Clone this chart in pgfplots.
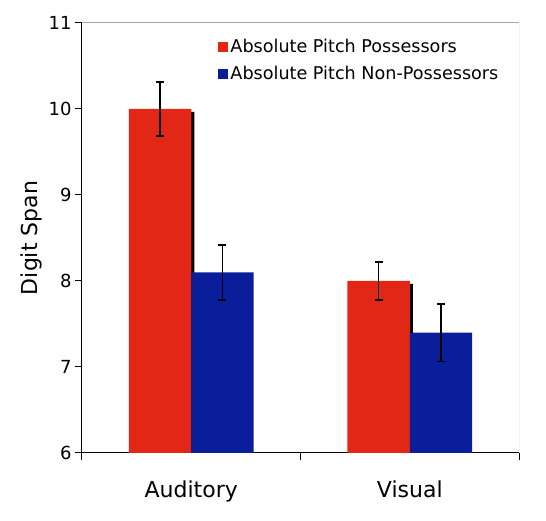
\documentclass[border=0pt]{standalone}
\usepackage{fontspec}
\setmainfont{DejaVu Sans}
\usepackage{pgfplots}
\pgfplotsset{compat=1.18}
\usetikzlibrary{calc}

\definecolor{apred}{RGB}{227,39,22}
\definecolor{apblue}{RGB}{10,30,156}

\begin{document}
\begin{tikzpicture}
\begin{axis}[
    scale only axis,
    width=437pt, height=430pt,
    xmin=-0.5, xmax=1.5,
    ymin=6, ymax=11,
    axis x line*=bottom,
    axis y line*=left,
    axis line style={line width=1pt, black},
    xtick={0,1},
    xticklabels={Auditory, Visual},
    minor xtick={-0.5,0.5,1.5},
    major x tick style={draw=none},
    minor x tick style={line width=1pt, black},
    minor tick length=7pt,
    ytick={6,7,8,9,10,11},
    y tick style={line width=1pt, black},
    major tick length=7pt,
    tick align=outside,
    /pgf/number format/assume math mode=true,
    yticklabel style={font=\fontsize{18}{20}\selectfont},
    xticklabel style={font=\fontsize{22}{26}\selectfont, yshift=-17pt},
    ylabel={Digit Span},
    ylabel style={font=\fontsize{22}{26}\selectfont},
    ybar, bar width=0.286,
    legend style={draw=none, fill=none, at={(0.305,0.972)}, anchor=north west,
        font=\fontsize{17.6}{20}\selectfont, row sep=8pt,
        cells={anchor=west}},
    legend image code/.code={\fill[#1,draw=none] (-3pt,-5pt) rectangle (7pt,5pt);},
    error bars/y dir=both,
    error bars/y explicit,
    error bars/error bar style={line width=1.7pt, black},
    error bars/error mark options={line width=1.7pt, black, mark size=4pt, rotate=90},
]
% shadow behind the red bars
\addplot[fill=black, draw=none, bar shift=-0.129, yshift=-3pt, forget plot,
    error bars/y dir=none]
    coordinates {(0,10.0) (1,8.0)};
\addplot[fill=apred, draw=none, bar shift=-0.143]
    coordinates {(0,10.0) +- (0,0.31) (1,8.0) +- (0,0.22)};
\addplot[fill=apblue, draw=none, bar shift=0.143]
    coordinates {(0,8.1) +- (0,0.32) (1,7.4) +- (0,0.335)};
\legend{Absolute Pitch Possessors, Absolute Pitch Non-Possessors}
\draw[gray!70, line width=1pt] (rel axis cs:0,1) -- (rel axis cs:1,1) -- (rel axis cs:1,0);
\end{axis}
\pgfresetboundingbox
\path[use as bounding box] ($(current axis.south west)+(-82pt,-68pt)$) rectangle ($(current axis.north east)+(27pt,23pt)$);
\end{tikzpicture}
\end{document}
